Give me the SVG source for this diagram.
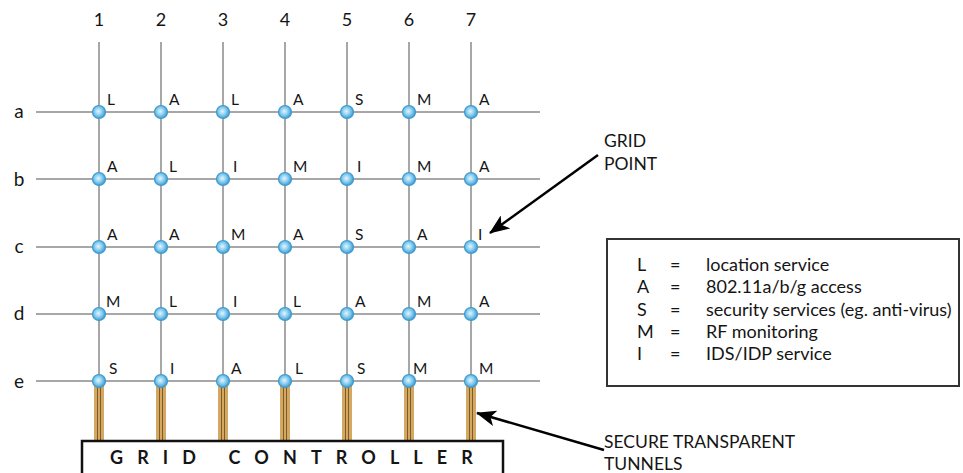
<svg xmlns="http://www.w3.org/2000/svg" width="963" height="473" viewBox="0 0 963 473">
  <defs>
    <radialGradient id="nodeFill" cx="0.45" cy="0.45" r="0.6">
      <stop offset="0" stop-color="#e6f6fd"/>
      <stop offset="0.5" stop-color="#86ccee"/>
      <stop offset="1" stop-color="#2f90c8"/>
    </radialGradient>
    <marker id="arrow" viewBox="0 0 20 16" refX="19" refY="8" markerWidth="20" markerHeight="16" markerUnits="userSpaceOnUse" orient="auto">
      <path d="M0,0 L20,8 L0,16 L5,8 Z" fill="#000"/>
    </marker>
  </defs>
  <style>
    .grid { stroke: #8a8a8a; stroke-width: 1.5; fill: none; }
    .lbl { font-family: Lato, "Open Sans", "Liberation Sans", sans-serif; fill: #151515; }
    .axis { font-size: 18px; text-anchor: middle; }
    .row { font-size: 19px; }
    .svc { font-size: 15.5px; }
    .note { font-size: 17.5px; }
    .leg { font-size: 18px; }
    .node circle { fill: url(#nodeFill); stroke: #3d9ad0; stroke-width: 1.2; }
    .tunnel-band { fill: #d4a861; }
    .tunnel-line { stroke: #7b5a2c; stroke-width: 1; }
    .conn { stroke: #000; stroke-width: 2.5; fill: none; marker-end: url(#arrow); }
  </style>
  <rect width="963" height="473" fill="#fff"/>

  <!-- column headers -->
  <g class="lbl axis">
    <text x="99" y="26">1</text>
    <text x="161" y="26">2</text>
    <text x="223" y="26">3</text>
    <text x="285" y="26">4</text>
    <text x="347" y="26">5</text>
    <text x="409" y="26">6</text>
    <text x="471" y="26">7</text>
  </g>
  <!-- row headers -->
  <g class="lbl axis row">
    <text x="19" y="118">a</text>
    <text x="19" y="186">b</text>
    <text x="19" y="253">c</text>
    <text x="19" y="320">d</text>
    <text x="19" y="388">e</text>
  </g>

  <!-- grid lines -->
  <g id="grid-lines" class="grid">
    <line x1="99" y1="42" x2="99" y2="381"/>
    <line x1="161" y1="42" x2="161" y2="381"/>
    <line x1="223" y1="42" x2="223" y2="381"/>
    <line x1="285" y1="42" x2="285" y2="381"/>
    <line x1="347" y1="42" x2="347" y2="381"/>
    <line x1="409" y1="42" x2="409" y2="381"/>
    <line x1="471" y1="42" x2="471" y2="381"/>
    <line x1="36" y1="112" x2="540" y2="112"/>
    <line x1="36" y1="179" x2="540" y2="179"/>
    <line x1="36" y1="247" x2="540" y2="247"/>
    <line x1="36" y1="314" x2="540" y2="314"/>
    <line x1="36" y1="381" x2="540" y2="381"/>
  </g>

  <!-- secure tunnels from row e down to the controller -->
  <g id="tunnels">
    <g transform="translate(99,0)"><rect class="tunnel-band" x="-5" y="381" width="10" height="60"/><line class="tunnel-line" x1="-1.5" y1="381" x2="-1.5" y2="441"/><line class="tunnel-line" x1="1.5" y1="381" x2="1.5" y2="441"/></g>
    <g transform="translate(161,0)"><rect class="tunnel-band" x="-5" y="381" width="10" height="60"/><line class="tunnel-line" x1="-1.5" y1="381" x2="-1.5" y2="441"/><line class="tunnel-line" x1="1.5" y1="381" x2="1.5" y2="441"/></g>
    <g transform="translate(223,0)"><rect class="tunnel-band" x="-5" y="381" width="10" height="60"/><line class="tunnel-line" x1="-1.5" y1="381" x2="-1.5" y2="441"/><line class="tunnel-line" x1="1.5" y1="381" x2="1.5" y2="441"/></g>
    <g transform="translate(285,0)"><rect class="tunnel-band" x="-5" y="381" width="10" height="60"/><line class="tunnel-line" x1="-1.5" y1="381" x2="-1.5" y2="441"/><line class="tunnel-line" x1="1.5" y1="381" x2="1.5" y2="441"/></g>
    <g transform="translate(347,0)"><rect class="tunnel-band" x="-5" y="381" width="10" height="60"/><line class="tunnel-line" x1="-1.5" y1="381" x2="-1.5" y2="441"/><line class="tunnel-line" x1="1.5" y1="381" x2="1.5" y2="441"/></g>
    <g transform="translate(409,0)"><rect class="tunnel-band" x="-5" y="381" width="10" height="60"/><line class="tunnel-line" x1="-1.5" y1="381" x2="-1.5" y2="441"/><line class="tunnel-line" x1="1.5" y1="381" x2="1.5" y2="441"/></g>
    <g transform="translate(471,0)"><rect class="tunnel-band" x="-5" y="381" width="10" height="60"/><line class="tunnel-line" x1="-1.5" y1="381" x2="-1.5" y2="441"/><line class="tunnel-line" x1="1.5" y1="381" x2="1.5" y2="441"/></g>
  </g>

  <!-- grid controller -->
  <g id="grid-controller">
    <rect x="82" y="441" width="421" height="40" fill="#fff" stroke="#111" stroke-width="2.5"/>
    <text class="lbl" x="110" y="464" font-size="18" font-weight="bold" letter-spacing="14.1">GRID CONTROLLER</text>
  </g>

  <!-- grid points: row a -->
  <g id="a1" class="node"><circle cx="99" cy="112" r="6.5"/><text class="lbl svc" x="107" y="105">L</text></g>
  <g id="a2" class="node"><circle cx="161" cy="112" r="6.5"/><text class="lbl svc" x="169" y="105">A</text></g>
  <g id="a3" class="node"><circle cx="223" cy="112" r="6.5"/><text class="lbl svc" x="231" y="105">L</text></g>
  <g id="a4" class="node"><circle cx="285" cy="112" r="6.5"/><text class="lbl svc" x="293" y="105">A</text></g>
  <g id="a5" class="node"><circle cx="347" cy="112" r="6.5"/><text class="lbl svc" x="355" y="105">S</text></g>
  <g id="a6" class="node"><circle cx="409" cy="112" r="6.5"/><text class="lbl svc" x="417" y="105">M</text></g>
  <g id="a7" class="node"><circle cx="471" cy="112" r="6.5"/><text class="lbl svc" x="479" y="105">A</text></g>
  <!-- row b -->
  <g id="b1" class="node"><circle cx="99" cy="179" r="6.5"/><text class="lbl svc" x="107" y="172">A</text></g>
  <g id="b2" class="node"><circle cx="161" cy="179" r="6.5"/><text class="lbl svc" x="169" y="172">L</text></g>
  <g id="b3" class="node"><circle cx="223" cy="179" r="6.5"/><text class="lbl svc" x="233" y="172">I</text></g>
  <g id="b4" class="node"><circle cx="285" cy="179" r="6.5"/><text class="lbl svc" x="293" y="172">M</text></g>
  <g id="b5" class="node"><circle cx="347" cy="179" r="6.5"/><text class="lbl svc" x="357" y="172">I</text></g>
  <g id="b6" class="node"><circle cx="409" cy="179" r="6.5"/><text class="lbl svc" x="417" y="172">M</text></g>
  <g id="b7" class="node"><circle cx="471" cy="179" r="6.5"/><text class="lbl svc" x="479" y="172">A</text></g>
  <!-- row c -->
  <g id="c1" class="node"><circle cx="99" cy="247" r="6.5"/><text class="lbl svc" x="107" y="240">A</text></g>
  <g id="c2" class="node"><circle cx="161" cy="247" r="6.5"/><text class="lbl svc" x="169" y="240">A</text></g>
  <g id="c3" class="node"><circle cx="223" cy="247" r="6.5"/><text class="lbl svc" x="231" y="240">M</text></g>
  <g id="c4" class="node"><circle cx="285" cy="247" r="6.5"/><text class="lbl svc" x="293" y="240">A</text></g>
  <g id="c5" class="node"><circle cx="347" cy="247" r="6.5"/><text class="lbl svc" x="355" y="240">S</text></g>
  <g id="c6" class="node"><circle cx="409" cy="247" r="6.5"/><text class="lbl svc" x="417" y="240">A</text></g>
  <g id="c7" class="node"><circle cx="471" cy="247" r="6.5"/><text class="lbl svc" x="478" y="240">I</text></g>
  <!-- row d -->
  <g id="d1" class="node"><circle cx="99" cy="314" r="6.5"/><text class="lbl svc" x="106" y="307">M</text></g>
  <g id="d2" class="node"><circle cx="161" cy="314" r="6.5"/><text class="lbl svc" x="169" y="307">L</text></g>
  <g id="d3" class="node"><circle cx="223" cy="314" r="6.5"/><text class="lbl svc" x="233" y="307">I</text></g>
  <g id="d4" class="node"><circle cx="285" cy="314" r="6.5"/><text class="lbl svc" x="293" y="307">L</text></g>
  <g id="d5" class="node"><circle cx="347" cy="314" r="6.5"/><text class="lbl svc" x="355" y="307">A</text></g>
  <g id="d6" class="node"><circle cx="409" cy="314" r="6.5"/><text class="lbl svc" x="417" y="307">M</text></g>
  <g id="d7" class="node"><circle cx="471" cy="314" r="6.5"/><text class="lbl svc" x="479" y="307">A</text></g>
  <!-- row e -->
  <g id="e1" class="node"><circle cx="99" cy="381" r="6.5"/><text class="lbl svc" x="109" y="374">S</text></g>
  <g id="e2" class="node"><circle cx="161" cy="381" r="6.5"/><text class="lbl svc" x="170" y="374">I</text></g>
  <g id="e3" class="node"><circle cx="223" cy="381" r="6.5"/><text class="lbl svc" x="231" y="374">A</text></g>
  <g id="e4" class="node"><circle cx="285" cy="381" r="6.5"/><text class="lbl svc" x="295" y="374">L</text></g>
  <g id="e5" class="node"><circle cx="347" cy="381" r="6.5"/><text class="lbl svc" x="357" y="374">S</text></g>
  <g id="e6" class="node"><circle cx="409" cy="381" r="6.5"/><text class="lbl svc" x="413" y="374">M</text></g>
  <g id="e7" class="node"><circle cx="471" cy="381" r="6.5"/><text class="lbl svc" x="479" y="374">M</text></g>

  <!-- callouts -->
  <g id="label-grid-point">
    <text class="lbl note" x="604" y="147">GRID</text>
    <text class="lbl note" x="604" y="170">POINT</text>
  </g>
  <g id="label-tunnels">
    <text class="lbl note" x="604" y="448">SECURE TRANSPARENT</text>
    <text class="lbl note" x="604" y="470">TUNNELS</text>
  </g>
  <g id="connectors">
    <line class="conn" x1="598" y1="155" x2="490" y2="233"/>
    <line class="conn" x1="604" y1="450" x2="477" y2="413"/>
  </g>

  <!-- legend -->
  <g id="legend">
    <rect x="607" y="239" width="352" height="147" fill="#fff" stroke="#333" stroke-width="2"/>
    <g class="lbl leg">
      <text x="637" y="271">L</text><text x="670" y="271">=</text><text x="706" y="271">location service</text>
      <text x="637" y="293">A</text><text x="670" y="293">=</text><text x="706" y="293">802.11a/b/g access</text>
      <text x="637" y="316">S</text><text x="670" y="316">=</text><text x="706" y="316">security services (eg. anti-virus)</text>
      <text x="637" y="338">M</text><text x="670" y="338">=</text><text x="706" y="338">RF monitoring</text>
      <text x="637" y="360">I</text><text x="670" y="360">=</text><text x="706" y="360">IDS/IDP service</text>
    </g>
  </g>
</svg>
